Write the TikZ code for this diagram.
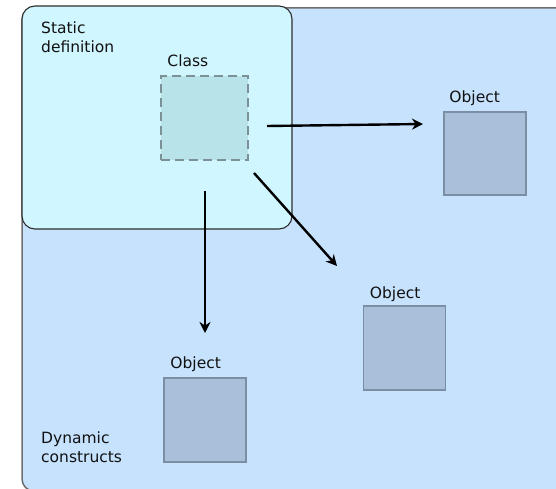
\documentclass[tikz,border=0pt]{standalone}
\usepackage{fontspec}
\setmainfont{DejaVu Sans}
\usetikzlibrary{arrows.meta}
\definecolor{bigfill}{HTML}{C6E2FD}
\definecolor{bigline}{HTML}{6E6E6E}
\definecolor{statfill}{HTML}{D0F6FF}
\definecolor{statline}{HTML}{2E2E2E}
\definecolor{classfill}{HTML}{B8E3E9}
\definecolor{classline}{HTML}{7B9196}
\definecolor{objfill}{HTML}{AABFD9}
\definecolor{objline}{HTML}{7C8EA3}
\definecolor{txt}{HTML}{111111}
\tikzset{
  lbl/.style={font=\fontsize{15.5}{19}\selectfont, text=txt, inner sep=0pt, anchor=base west},
  area/.style={font=\fontsize{15.5}{19}\selectfont, text=txt, inner sep=0pt, align=left, anchor=north west},
  objbox/.style={draw=objline, fill=objfill, line width=1.5pt, minimum width=82, minimum height=83, inner sep=0pt},
  classbox/.style={draw=classline, fill=classfill, line width=1.5pt, dash pattern=on 9pt off 5pt, minimum width=87, minimum height=84, inner sep=0pt},
  conn/.style={line width=2.4pt, draw=black, -{Stealth[length=11pt,width=11pt,inset=3.5pt]}}
}
\begin{document}
\begin{tikzpicture}[x=1pt,y=-1pt]
\useasboundingbox (0,0) rectangle (556,489);
\begin{scope}
\clip (0,0) rectangle (556,489);
\draw[bigline, fill=bigfill, line width=1.5pt, rounded corners=12] (22,8) rectangle (580,491);
\end{scope}
\draw[statline, fill=statfill, line width=1.1pt, rounded corners=13] (22,6) rectangle (292,229);
\node[area] (stat) at (41,22) {Static\\definition};
\node[area] (dyn) at (41,432) {Dynamic\\constructs};

\node[classbox] (class) at (204.5,118) {};
\node[lbl] (classl) at ([shift={(7,-9)}]class.north west) {Class};

\node[objbox] (obj1) at (485,153.5) {};
\node[lbl] (obj1l) at ([shift={(6,-9)}]obj1.north west) {Object};
\node[objbox, minimum height=84] (obj2) at (404.5,348) {};
\node[lbl] (obj2l) at ([shift={(7,-7)}]obj2.north west) {Object};
\node[objbox, minimum height=84] (obj3) at (205,420) {};
\node[lbl] (obj3l) at ([shift={(7,-9)}]obj3.north west) {Object};

\coordinate (a1s) at (267,126);
\coordinate (a1e) at (423,124);
\coordinate (a2s) at (254,173);
\coordinate (a2e) at (337,266);
\coordinate (a3s) at (205,191);
\coordinate (a3e) at (205,333);
\draw[conn] (a1s) -- (a1e);
\draw[conn] (a2s) -- (a2e);
\draw[conn] (a3s) -- (a3e);
\end{tikzpicture}
\end{document}
